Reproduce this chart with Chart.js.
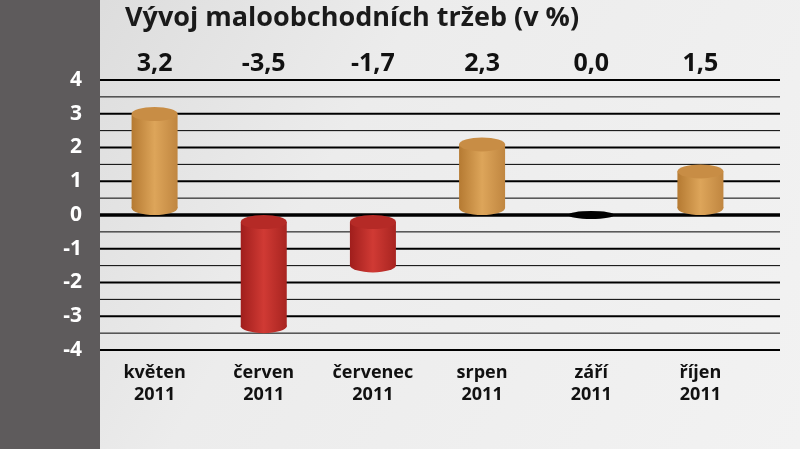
<!DOCTYPE html>
<html><head><meta charset="utf-8">
<script src="https://cdn.jsdelivr.net/npm/chart.js@4"></script>
<style>html,body{margin:0;padding:0;}#w{width:800px;height:449px;}</style>
</head><body><div id="w"><canvas id="c"></canvas></div>
<script>
const categories = [["květen","2011"],["červen","2011"],["červenec","2011"],["srpen","2011"],["září","2011"],["říjen","2011"]];
const values = [3.2, -3.5, -1.7, 2.3, 0.0, 1.5];
const valueLabels = ["3,2","-3,5","-1,7","2,3","0,0","1,5"];
const title = "Vývoj maloobchodních tržeb (v %)";
const F = "'Open Sans', 'DejaVu Sans', sans-serif";

const deco = {
  id:'deco',
  beforeDraw(ch){
    const c=ch.ctx, W=ch.width, H=ch.height;
    c.save();
    const g=c.createLinearGradient(0,0,W,H);
    g.addColorStop(0,'#d8d8d8');g.addColorStop(0.4,'#ececec');g.addColorStop(1,'#f2f2f2');
    c.fillStyle=g;c.fillRect(0,0,W,H);
    c.fillStyle='#5e5b5c';c.fillRect(0,0,100,H);
    c.fillStyle='#1a1a1a';c.font="bold 27px "+F;c.textBaseline='middle';c.textAlign='left';
    c.fillText(title,125,18);
    c.restore();
  },
  beforeDatasetsDraw(ch){
    const c=ch.ctx,y=ch.scales.y,a=ch.chartArea;
    c.save();c.strokeStyle='#000';
    for(let v=-4;v<=4;v+=0.5){
      const p=y.getPixelForValue(v);
      c.lineWidth = v===0?3.5:(Number.isInteger(v)?2.2:1);
      c.beginPath();c.moveTo(a.left,p);c.lineTo(780,p);c.stroke();
    }
    c.restore();
  },
  afterDatasetsDraw(ch){
    const c=ch.ctx,meta=ch.getDatasetMeta(0);
    c.save();
    meta.data.forEach((b,i)=>{
      const v=values[i],x=b.x,w=46,rx=w/2,ry=7;
      const top=Math.min(b.y,b.base),bot=Math.max(b.y,b.base);
      if(v===0){c.fillStyle='#000';c.beginPath();c.ellipse(x,b.base,rx,4,0,0,Math.PI*2);c.fill();
      }else{
        const pos=v>0;
        const g=c.createLinearGradient(x-rx,0,x+rx,0);
        if(pos){g.addColorStop(0,'#b57a32');g.addColorStop(0.5,'#dda55a');g.addColorStop(1,'#c08640');}
        else{g.addColorStop(0,'#a01e1c');g.addColorStop(0.5,'#d03a34');g.addColorStop(1,'#a82420');}
        const t=top+ry,bb=bot-ry;
        c.fillStyle=g;c.fillRect(x-rx,t,w,bb-t);
        c.beginPath();c.ellipse(x,bb,rx,ry,0,0,Math.PI*2);c.fill();
        c.fillStyle=pos?'#c88d45':'#b52a26';
        c.beginPath();c.ellipse(x,t,rx,ry,0,0,Math.PI*2);c.fill();
      }
      c.fillStyle='#111';c.font="bold 25px "+F;c.textAlign='center';c.textBaseline='middle';
      c.fillText(valueLabels[i],x,64);
    });
    c.restore();
  }
};

new Chart(document.getElementById('c'),{
  type:'bar',
  data:{labels:categories,datasets:[{data:values,backgroundColor:'rgba(0,0,0,0)',borderWidth:0,categoryPercentage:0.45,barPercentage:1}]},
  options:{
    responsive:true,maintainAspectRatio:false,animation:false,devicePixelRatio:1,
    layout:{padding:{top:80,right:45,left:0,bottom:0}},
    plugins:{legend:{display:false},tooltip:{enabled:false}},
    scales:{
      x:{grid:{display:false},border:{display:false},
        ticks:{color:'#111',font:{family:F,size:18,weight:'bold'},padding:4,maxRotation:0,autoSkip:false},
        afterFit(s){s.height=99;}},
      y:{min:-4,max:4,grid:{display:false},border:{display:false},
        ticks:{stepSize:1,color:'#fff',font:{family:F,size:21,weight:'bold'},padding:10},
        afterFit(s){s.width=100;}}
    }
  },
  plugins:[deco]
});
</script></body></html>
